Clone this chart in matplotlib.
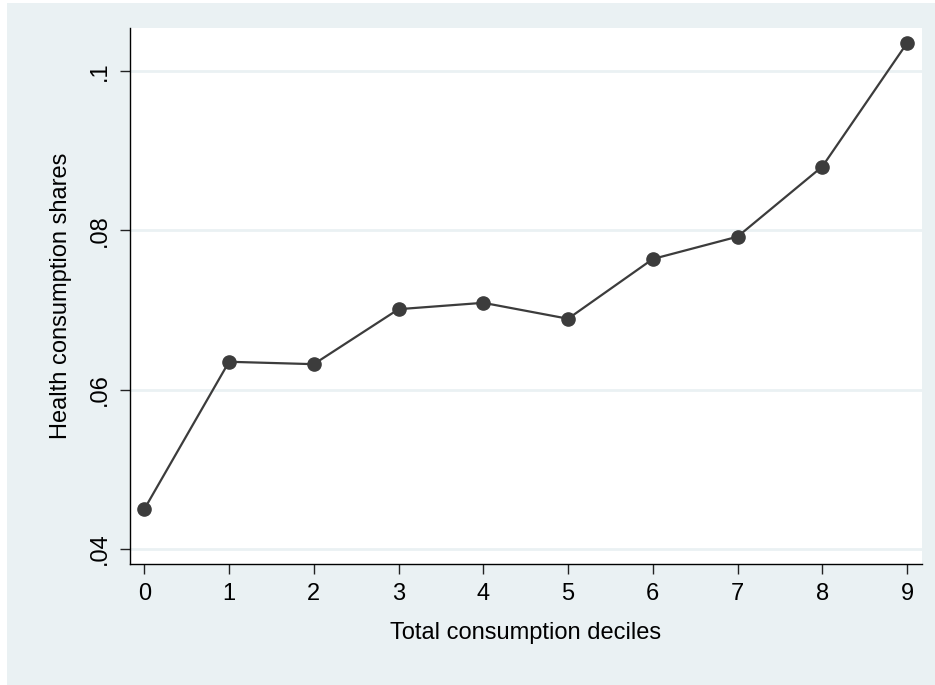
import numpy as np
import matplotlib.pyplot as plt
from matplotlib.patches import Rectangle

plt.rcParams['font.family'] = ['Liberation Sans', 'DejaVu Sans']

# health consumption share by total consumption decile
deciles = [0, 1, 2, 3, 4, 5, 6, 7, 8, 9]
shares = [0.0450, 0.0635, 0.0632, 0.0701, 0.0709, 0.0689, 0.0764, 0.0792, 0.0880, 0.1035]
yticks = [0.04, 0.06, 0.08, 0.1]
ytick_labels = [".04", ".06", ".08", ".1"]

bg = "#EAF1F3"
fig = plt.figure(figsize=(9.35, 6.85), dpi=100, facecolor="white")
# stata-like graph region with a thin white border top/left
fig.patches.append(Rectangle((7 / 935, 0), 1, 1 - 3 / 685, transform=fig.transFigure,
                             facecolor=bg, edgecolor="none", zorder=-5))

ax = fig.add_axes([0.1390, 0.1771, 0.8468, 0.7825])
ax.set_facecolor("white")

for y in yticks:
    ax.axhline(y, color=bg, lw=2, zorder=1)

ax.plot(deciles, shares, "-o", color="#3c3c3c", lw=1.6, markersize=9.5, zorder=3)

ax.set_xlim(-0.169, 9.173)
ax.set_ylim(0.03816, 0.10543)
ax.set_xticks(deciles)
ax.set_yticks(yticks)
ax.set_yticklabels(ytick_labels, rotation=90, va="center")

for s in ["top", "right"]:
    ax.spines[s].set_visible(False)
for s in ["left", "bottom"]:
    ax.spines[s].set_color("black")
    ax.spines[s].set_linewidth(1.0)

ax.tick_params(axis="both", direction="out", length=7, width=1, color="#222222",
               labelsize=17, pad=7)

ax.set_xlabel("Total consumption deciles", fontsize=17, labelpad=12)
ax.set_ylabel("Health consumption shares", fontsize=17, labelpad=12)

fig.savefig("out.png", dpi=100, facecolor="white")
